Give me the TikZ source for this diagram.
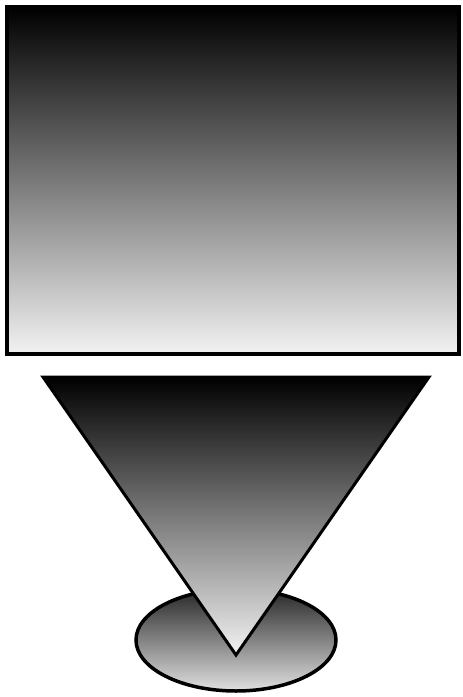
\documentclass[tikz,border=0pt]{standalone}
\begin{document}
\begin{tikzpicture}[x=1pt,y=-1pt,
  outline/.style={draw=black,line width=3.5pt,line join=miter}]
\useasboundingbox (0,0) rectangle (463,697);
% ellipse base
\path[outline,top color=black!85,bottom color=black!12] (236,640) ellipse [x radius=100, y radius=51];
% big rectangle
\path[outline,top color=black,bottom color=black!5] (7,7) rectangle (459,354);
% inverted triangle
\path[outline,line width=3pt,top color=black,bottom color=black!5] (43,377) -- (429,377) -- (236,655) -- cycle;
\end{tikzpicture}
\end{document}
